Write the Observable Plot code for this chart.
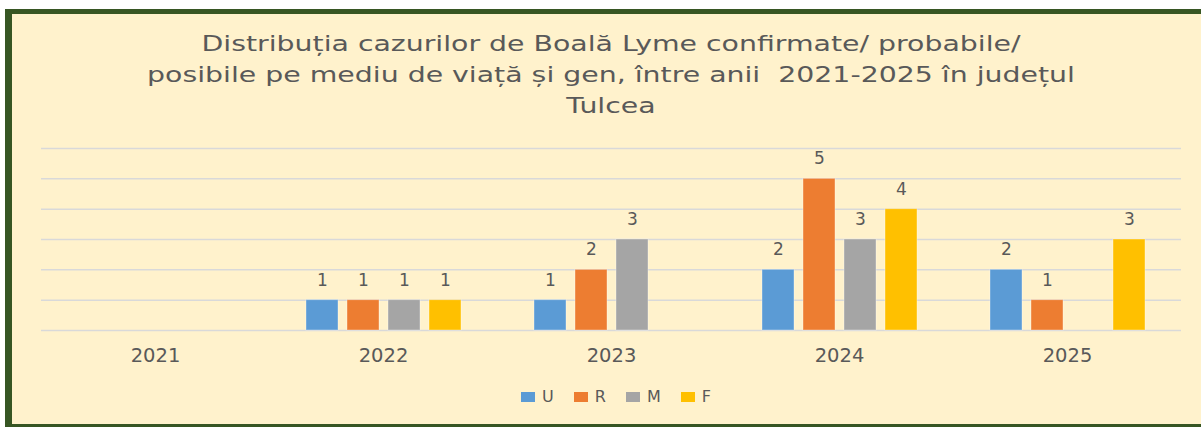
<!DOCTYPE html>
<html>
<head>
<meta charset="utf-8">
<script src="https://cdn.jsdelivr.net/npm/d3@7"></script>
<script src="https://cdn.jsdelivr.net/npm/@observablehq/plot@0.6"></script>
<style>
  html, body { margin: 0; padding: 0; background: #ffffff; }
  #wrap { position: relative; width: 1201px; height: 430px; overflow: hidden; font-family: "DejaVu Sans", sans-serif; }
  #panel { position: absolute; left: 5px; top: 9px; width: 1196px; height: 418px; background: #FFF2CC;
           border-left: 7px solid #375623; border-top: 5px solid #375623; border-bottom: 3px solid #375623; box-sizing: border-box; }
  #title { position: absolute; left: 0; top: 29px; width: 1222px; text-align: center; color: #595959;
           font-size: 21px; line-height: 31px; transform: scaleX(1.35); transform-origin: 611px 0; }
  #chart { position: absolute; left: 0; top: 130px; }
  #legend { position: absolute; left: 0; top: 387px; width: 1232px; text-align: center; color: #595959; font-size: 16px; }
  #legend span.item { display: inline-block; margin: 0 10px; }
  #legend span.sw { display: inline-block; width: 14px; height: 10px; margin-right: 7px; vertical-align: 0px; }
</style>
</head>
<body>
<div id="wrap">
  <div id="panel"></div>
  <div id="title">Distribuția cazurilor de Boală Lyme confirmate/ probabile/<br>posibile pe mediu de viață și gen, între anii&nbsp; 2021-2025 în județul<br>Tulcea</div>
  <div id="chart"></div>
  <div id="legend"></div>
</div>
<script>
const years = ["2021", "2022", "2023", "2024", "2025"];
const series = ["U", "R", "M", "F"];
const valuesU = [null, 1, 1, 2, 2];
const valuesR = [null, 1, 2, 5, 1];
const valuesM = [null, 1, 3, 3, null];
const valuesF = [null, 1, null, 4, 3];
const colors = ["#5B9BD5", "#ED7D31", "#A5A5A5", "#FFC000"];
const yTicks = [0, 1, 2, 3, 4, 5, 6];

const seriesValues = [valuesU, valuesR, valuesM, valuesF];
const rows = [];
years.forEach((yr, i) => {
  series.forEach((s, j) => {
    const v = seriesValues[j][i];
    if (v != null) rows.push({year: yr, series: s, value: v});
  });
});
const gridRows = [];
years.forEach(yr => yTicks.forEach(t => gridRows.push({year: yr, tick: t})));

const plot = Plot.plot({
  width: 1201,
  height: 240,
  marginLeft: 40,
  marginRight: 20,
  marginTop: 18,
  marginBottom: 40,
  style: {background: "transparent", fontFamily: "'DejaVu Sans', sans-serif", color: "#595959"},
  fx: {domain: years, padding: 0, label: null},
  x: {domain: series, paddingInner: 0.23, paddingOuter: 0.86, axis: null},
  y: {domain: [0, 6], axis: null},
  color: {domain: series, range: colors},
  marks: [
    Plot.ruleY(gridRows, {fx: "year", y: "tick", stroke: "#D9D9D9", strokeWidth: 1.5}),
    Plot.barY(rows, {fx: "year", x: "series", y: "value", fill: "series", stroke: "#ffffff", strokeOpacity: 0.35, strokeWidth: 1}),
    Plot.text(rows, {fx: "year", x: "series", y: "value", text: d => String(d.value), dy: -20, fontSize: 17, fill: "#595959"}),
    Plot.axisFx({anchor: "bottom", tickSize: 0, tickPadding: 18, fontSize: 19.5, fill: "#595959", label: null})
  ]
});
document.getElementById("chart").appendChild(plot);

const legend = document.getElementById("legend");
series.forEach((s, j) => {
  const item = document.createElement("span");
  item.className = "item";
  const sw = document.createElement("span");
  sw.className = "sw";
  sw.style.background = colors[j];
  item.appendChild(sw);
  item.appendChild(document.createTextNode(s));
  legend.appendChild(item);
});
</script>
</body>
</html>
